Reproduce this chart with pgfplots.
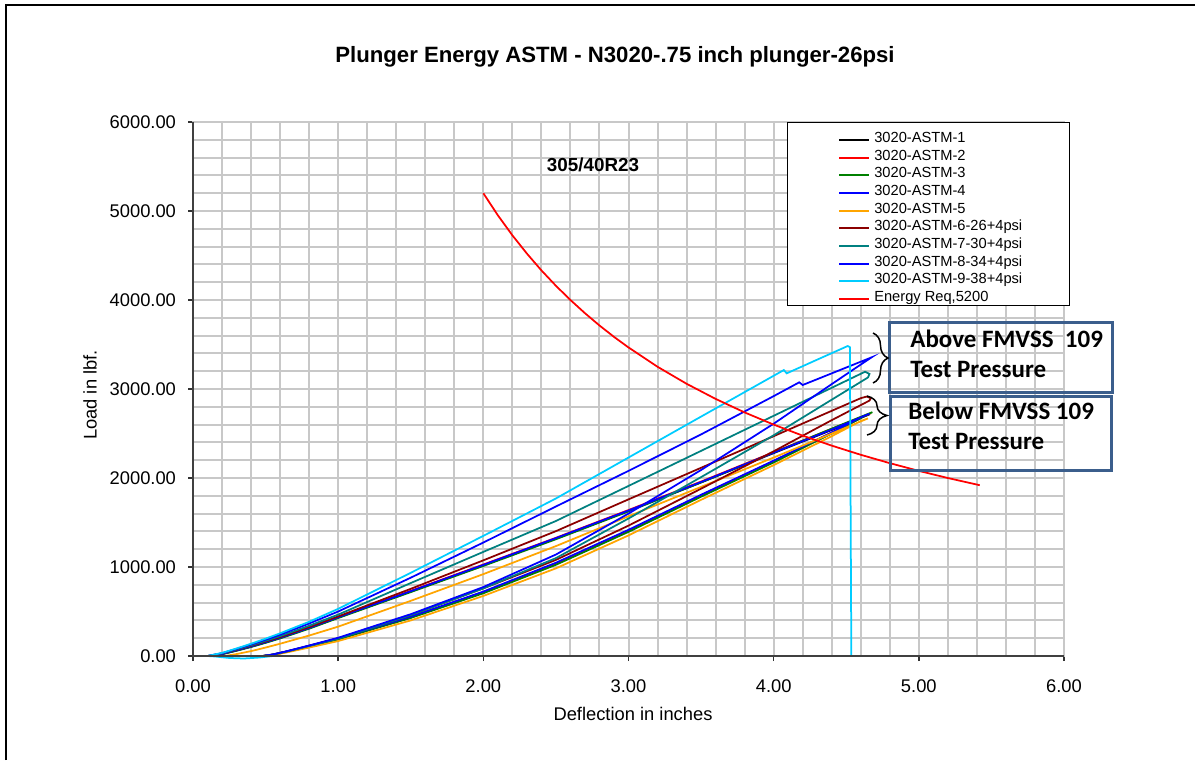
\documentclass[border=0pt]{standalone}
\usepackage{fontspec}
\setmainfont{Liberation Sans}
\newfontfamily\calib{Carlito}
\usepackage{pgfplots}
\pgfplotsset{compat=1.18}
\usetikzlibrary{decorations.pathreplacing}
\definecolor{gridc}{RGB}{200,200,200}
\definecolor{boxc}{RGB}{59,94,140}
\definecolor{cnine}{RGB}{0,204,255}
\definecolor{cseven}{RGB}{0,128,128}
\definecolor{csix}{RGB}{139,0,0}
\definecolor{cfive}{RGB}{255,165,0}
\definecolor{cthree}{RGB}{0,128,0}
\begin{document}
\begin{tikzpicture}
\path[use as bounding box] (0pt,0pt) rectangle (717pt,-456pt);
\begin{axis}[
  at={(115.8pt,-393.6pt)}, anchor=south west,
  scale only axis, width=522.6pt, height=320.4pt,
  xmin=0, xmax=6, ymin=0, ymax=6000,
  xtick={0,1,2,3,4,5,6}, ytick={0,1000,2000,3000,4000,5000,6000},
  minor x tick num=4, minor y tick num=4,
  grid=both,
  major grid style={gridc, line width=1.2pt},
  minor grid style={gridc, line width=1.2pt},
  axis line style={gridc, line width=1.2pt},
  tick align=outside, xtick pos=left, ytick pos=left,
  major tick length=3pt, minor tick length=0pt,
  tick style={black!80, line width=0.9pt},
  scaled ticks=false,
  /pgf/number format/fixed, /pgf/number format/fixed zerofill,
  /pgf/number format/precision=2, /pgf/number format/1000 sep={},
  /pgf/number format/assume math mode=true,
  ticklabel style={font=\fontsize{11}{13}\selectfont},
  xticklabel style={yshift=-7.5pt},
  yticklabel style={xshift=-3.7pt},
  clip=false,
  no markers,
  every axis plot/.append style={line width=1.05pt},
  legend style={draw=none, fill=none, at={(0.7405,0.9837)}, anchor=north west,
    font=\fontsize{8.8}{10}\selectfont, inner sep=0pt, column sep=2.4pt, row sep=0pt,
    nodes={inner sep=0pt, text height=6.8pt, text depth=3.8pt}},
  legend cell align=left,
  legend image code/.code={\draw[#1, line width=1.2pt] (0pt,0pt) -- (18pt,0pt);},
]
% 1
\addplot[black] coordinates {(0,0) (0.12,0) (0.2,22) (0.3,62) (0.4,105) (0.5,152) (0.6,202) (0.8,312) (1.0,432) (1.5,725) (2.0,1020) (2.5,1320) (3.0,1630) (3.5,1950) (4.0,2280) (4.4,2540) (4.66,2715) (4.62,2690) (4.4,2505) (4.0,2185) (3.5,1800) (3.0,1405) (2.5,1035) (2.0,712) (1.5,432) (1.0,190) (0.8,110) (0.65,50) (0.55,15) (0.48,0) (0,0)};
\addlegendentry{3020-ASTM-1}
% 2
\addplot[red] coordinates {(0,0) (0.12,0) (0.2,24) (0.3,65) (0.4,108) (0.5,156) (0.6,206) (0.8,317) (1.0,437) (1.5,732) (2.0,1028) (2.5,1328) (3.0,1640) (3.5,1960) (4.0,2290) (4.4,2552) (4.67,2728) (4.62,2695) (4.4,2510) (4.0,2190) (3.5,1805) (3.0,1410) (2.5,1040) (2.0,718) (1.5,436) (1.0,193) (0.8,112) (0.65,52) (0.55,16) (0.48,0) (0,0)};
\addlegendentry{3020-ASTM-2}
% 3
\addplot[cthree] coordinates {(0,0) (0.12,0) (0.2,20) (0.3,59) (0.4,101) (0.5,148) (0.6,198) (0.8,307) (1.0,427) (1.5,718) (2.0,1012) (2.5,1312) (3.0,1625) (3.5,1950) (4.0,2285) (4.4,2555) (4.68,2740) (4.63,2700) (4.4,2500) (4.0,2175) (3.5,1790) (3.0,1395) (2.5,1025) (2.0,705) (1.5,428) (1.0,187) (0.8,108) (0.65,48) (0.55,14) (0.48,0) (0,0)};
\addlegendentry{3020-ASTM-3}
% 4
\addplot[blue] coordinates {(0,0) (0.12,0) (0.2,23) (0.3,64) (0.4,107) (0.5,155) (0.6,205) (0.8,316) (1.0,436) (1.5,728) (2.0,1024) (2.5,1325) (3.0,1635) (3.5,1955) (4.0,2285) (4.4,2545) (4.66,2722) (4.61,2690) (4.4,2512) (4.0,2195) (3.5,1812) (3.0,1418) (2.5,1048) (2.0,724) (1.5,442) (1.0,198) (0.8,116) (0.65,55) (0.55,18) (0.48,0) (0,0)};
\addlegendentry{3020-ASTM-4}
% 5
\addplot[cfive] coordinates {(0,0) (0.22,0) (0.3,22) (0.4,55) (0.5,95) (0.6,138) (0.8,230) (1.0,330) (1.5,620) (2.0,920) (2.5,1235) (3.0,1570) (3.5,1900) (4.0,2230) (4.4,2500) (4.65,2670) (4.6,2640) (4.4,2470) (4.0,2145) (3.5,1755) (3.0,1355) (2.5,985) (2.0,675) (1.5,400) (1.0,168) (0.8,95) (0.65,42) (0.55,10) (0.5,0) (0,0)};
\addlegendentry{3020-ASTM-5}
% 6
\addplot[csix] coordinates {(0,0) (0.1,0) (0.2,28) (0.3,70) (0.4,115) (0.5,163) (0.6,213) (0.8,325) (1.0,445) (1.5,755) (2.0,1075) (2.5,1403) (3.0,1760) (3.5,2115) (4.0,2470) (4.4,2755) (4.6,2897) (4.64,2915) (4.67,2898) (4.66,2870) (4.4,2650) (4.0,2300) (3.5,1880) (3.0,1465) (2.5,1080) (2.0,760) (1.5,460) (1.0,200) (0.8,115) (0.65,52) (0.55,16) (0.48,0) (0,0)};
\addlegendentry{3020-ASTM-6-26+4psi}
% 7
\addplot[cseven] coordinates {(0,0) (0.1,0) (0.2,30) (0.3,74) (0.4,121) (0.5,171) (0.6,223) (0.8,340) (1.0,465) (1.5,820) (2.0,1170) (2.5,1517) (3.0,1911) (3.5,2305) (4.0,2699) (4.4,3014) (4.6,3171) (4.63,3194) (4.66,3170) (4.65,3130) (4.4,2880) (4.0,2480) (3.5,2010) (3.0,1545) (2.5,1100) (2.0,760) (1.5,460) (1.0,195) (0.8,112) (0.65,52) (0.55,16) (0.48,0) (0,0)};
\addlegendentry{3020-ASTM-7-30+4psi}
% 8
\addplot[blue] coordinates {(0,0) (0.1,0) (0.2,32) (0.3,80) (0.4,130) (0.5,183) (0.6,240) (0.8,365) (1.0,500) (1.5,880) (2.0,1275) (2.5,1680) (3.0,2080) (3.5,2490) (4.0,2920) (4.176,3075) (4.20,3045) (4.4,3176) (4.6,3307) (4.675,3356) (4.6,3275) (4.4,3055) (4.0,2610) (3.5,2090) (3.0,1600) (2.5,1140) (2.0,775) (1.5,470) (1.0,205) (0.8,118) (0.65,55) (0.55,17) (0.48,0) (0,0)};
\addlegendentry{3020-ASTM-8-34+4psi}
% 9
\addplot[cnine] coordinates {(0,0) (0.1,0) (0.2,35) (0.3,85) (0.4,138) (0.5,195) (0.6,255) (0.8,385) (1.0,530) (1.5,935) (2.0,1350) (2.5,1770) (3.0,2230) (3.5,2690) (4.07,3213) (4.09,3176) (4.3,3330) (4.51,3483) (4.525,3470) (4.535,0) (4.0,0) (0.55,0) (0.45,-18) (0.35,-28) (0.25,-22) (0.15,-5) (0.1,0) (0,0)};
\addlegendentry{3020-ASTM-9-38+4psi}
% Energy
\addplot[red] coordinates {(2.0,5200) (2.1,4952) (2.2,4727) (2.3,4522) (2.4,4333) (2.5,4160) (2.6,4000) (2.7,3852) (2.8,3714) (2.9,3586) (3.0,3467) (3.2,3250) (3.4,3059) (3.6,2889) (3.8,2737) (4.0,2600) (4.2,2476) (4.4,2364) (4.6,2261) (4.8,2167) (5.0,2080) (5.2,2000) (5.42,1919)};
\addlegendentry{Energy Req,5200}
\draw[black!75, line width=1.5pt] (rel axis cs:0,1) -- (rel axis cs:0,0) -- (rel axis cs:1,0);
\filldraw[fill=white, draw=black, line width=0.6pt] (axis cs:4.092,5989) rectangle (axis cs:6.041,3933);
\end{axis}
\begin{scope}[x=0.6pt, y=-0.6pt]
\draw[line width=1.3pt] (6,760) -- (6,5) -- (1195,5);
\node[font=\bfseries\fontsize{13.3}{16}\selectfont] at (615,57) {Plunger Energy ASTM - N3020-.75 inch plunger-26psi};
\node[font=\fontsize{11}{13}\selectfont] at (633,714) {Deflection in inches};
\node[font=\fontsize{11}{13}\selectfont, rotate=90] at (90,395) {Load in lbf.};
\node[font=\bfseries\fontsize{11.3}{13}\selectfont] at (593,165) {305/40R23};
\draw[boxc, line width=1.8pt] (889,322) rectangle (1112,392);
\draw[boxc, line width=1.8pt] (890,396) rectangle (1111,470);
\node[font=\calib\bfseries\fontsize{15}{18}\selectfont, anchor=base west, inner sep=0pt] at (910,347) {Above FMVSS\ \ 109};
\node[font=\calib\bfseries\fontsize{15}{18}\selectfont, anchor=base west, inner sep=0pt] at (910,377) {Test Pressure};
\node[font=\calib\bfseries\fontsize{15}{18}\selectfont, anchor=base west, inner sep=0pt] at (908,419) {Below FMVSS 109};
\node[font=\calib\bfseries\fontsize{15}{18}\selectfont, anchor=base west, inner sep=0pt] at (908,449) {Test Pressure};
\draw[decorate, decoration={brace, amplitude=9pt}, line width=0.9pt] (873,333) -- (873,383);
\draw[decorate, decoration={brace, amplitude=12pt}, line width=0.9pt] (867,396) -- (867,435);
\end{scope}
\end{tikzpicture}
\end{document}
